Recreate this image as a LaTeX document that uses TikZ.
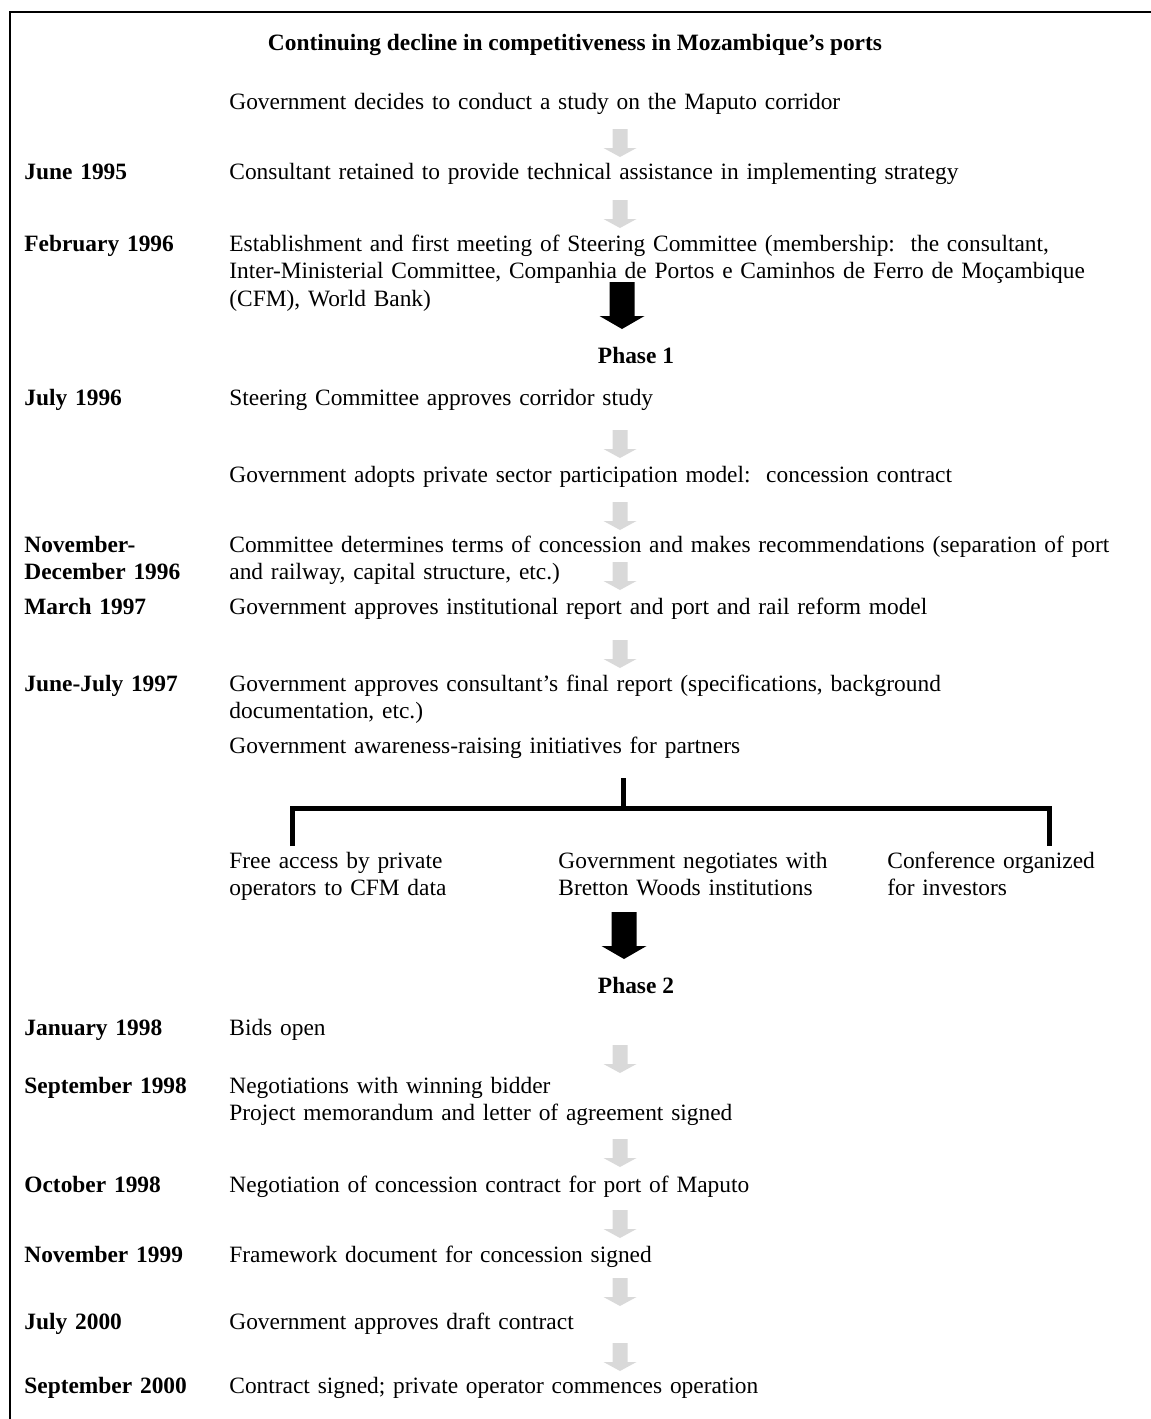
\documentclass[tikz,border=0pt]{standalone}
\usepackage{fontspec}
\setmainfont{Liberation Serif}

% grey step arrow: x, top
\newcommand{\greyarrow}[2]{%
  \fill[black!15] (#1-7.5,#2) -- (#1+7.5,#2) -- (#1+7.5,#2+19) -- (#1+16.5,#2+19)
    -- (#1,#2+28) -- (#1-16.5,#2+19) -- (#1-7.5,#2+19) -- cycle;}
% black phase arrow: x, top
\newcommand{\phasearrow}[2]{%
  \fill[black] (#1-12.5,#2) -- (#1+12.5,#2) -- (#1+12.5,#2+34) -- (#1+22.5,#2+34)
    -- (#1,#2+47) -- (#1-22.5,#2+34) -- (#1-12.5,#2+34) -- cycle;}

\begin{document}
\begin{tikzpicture}[x=0.5pt,y=-0.5pt,
  every node/.style={inner sep=0pt,font=\fontsize{11.7}{13.8}\selectfont},
  when/.style={anchor=base west,text width=100pt,align=left,
    font=\fontsize{11.7}{13.8}\selectfont\bfseries},
  what/.style={anchor=base west,text width=462pt,align=left},
  branch/.style={anchor=base west,text width=160pt,align=left},
  phase/.style={anchor=base,font=\fontsize{11.7}{13.8}\selectfont\bfseries}]
\useasboundingbox (0,0) rectangle (1151,1419);

% frame
\draw[line width=1.3pt] (10,1419) -- (10,12) -- (1151,12);

\node[phase] (title) at (575,50) {Continuing decline in competitiveness in Mozambique’s ports};

% before phase 1
\node[what] (decide) at (229,109) {Government decides to conduct a study on the Maputo corridor};
\greyarrow{620}{129}
\node[when] (d-jun95) at (24,179) {June 1995};
\node[what] (jun95) at (229,179) {Consultant retained to provide technical assistance in implementing strategy};
\greyarrow{620}{200}
\node[when] (d-feb96) at (24,251) {February 1996};
\node[what] (feb96) at (229,251) {Establishment and first meeting of Steering Committee (membership:\ \ the consultant,\\
  Inter-Ministerial Committee, Companhia de Portos e Caminhos de Ferro de Moçambique\\
  (CFM), World Bank)};
\phasearrow{622}{282}
\node[phase] (ph1) at (636,363) {Phase 1};

% phase 1
\node[when] (d-jul96) at (24,405) {July 1996};
\node[what] (jul96) at (229,405) {Steering Committee approves corridor study};
\greyarrow{620}{430}
\node[what] (adopt) at (229,482) {Government adopts private sector participation model:\ \ concession contract};
\greyarrow{620}{502}
\node[when] (d-nov96) at (24,552) {November-\\December 1996};
\node[what] (nov96) at (229,552) {Committee determines terms of concession and makes recommendations (separation of port\\
  and railway, capital structure, etc.)};
\greyarrow{620}{562}
\node[when] (d-mar97) at (24,614) {March 1997};
\node[what] (mar97) at (229,614) {Government approves institutional report and port and rail reform model};
\greyarrow{620}{640}
\node[when] (d-jun97) at (24,691) {June-July 1997};
\node[what] (jun97) at (229,691) {Government approves consultant’s final report (specifications, background\\
  documentation, etc.)};
\node[what] (aware) at (229,753) {Government awareness-raising initiatives for partners};

% bracket
\coordinate (stem) at (623,778);
\coordinate (left) at (292,808);
\coordinate (right) at (1049,808);
\draw[line width=2.5pt] (stem) -- (623,808);
\draw[line width=2.5pt] (292,846) -- (left) -- (right) -- (1049,846);
\node[branch] (access) at (229,868) {Free access by private\\operators to CFM data};
\node[branch] (talks) at (558,868) {Government negotiates with\\Bretton Woods institutions};
\node[branch] (conf) at (887,868) {Conference organized\\for investors};
\phasearrow{624}{912}
\node[phase] (ph2) at (636,993) {Phase 2};

% phase 2
\node[when] (d-jan98) at (24,1035) {January 1998};
\node[what] (jan98) at (229,1035) {Bids open};
\greyarrow{620}{1045}
\node[when] (d-sep98) at (24,1093) {September 1998};
\node[what] (sep98) at (229,1093) {Negotiations with winning bidder\\
  Project memorandum and letter of agreement signed};
\greyarrow{620}{1139}
\node[when] (d-oct98) at (24,1192) {October 1998};
\node[what] (oct98) at (229,1192) {Negotiation of concession contract for port of Maputo};
\greyarrow{620}{1210}
\node[when] (d-nov99) at (24,1262) {November 1999};
\node[what] (nov99) at (229,1262) {Framework document for concession signed};
\greyarrow{620}{1278}
\node[when] (d-jul00) at (24,1329) {July 2000};
\node[what] (jul00) at (229,1329) {Government approves draft contract};
\greyarrow{620}{1343}
\node[when] (d-sep00) at (24,1393) {September 2000};
\node[what] (sep00) at (229,1393) {Contract signed; private operator commences operation};
\end{tikzpicture}
\end{document}
